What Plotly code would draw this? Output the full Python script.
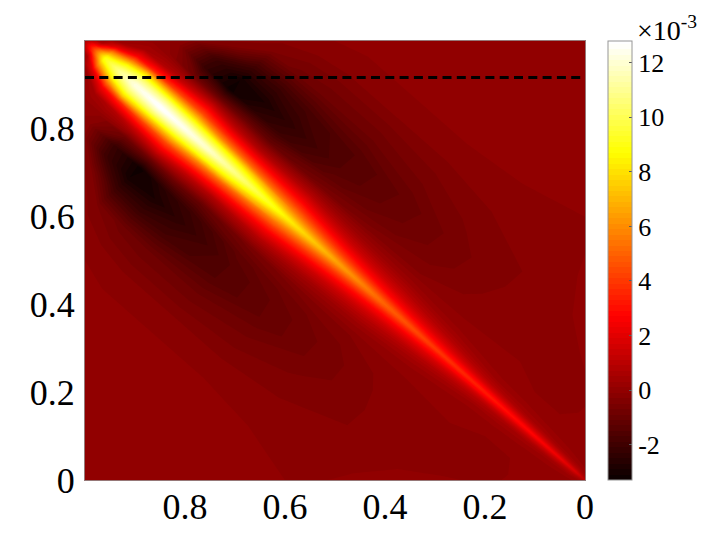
import numpy as np
import plotly.graph_objects as go

# position along the diagonal, (x+y)/2
along = [0, .02, .05, .1, .15, .2, .3, .4, .5, .6, .7, .75, .8, .85, .9, .93, .96, .98, 1]
# distance from the diagonal, |x-y|
offset = [0, .005, .01, .02, .03, .05, .07, .1, .14, .18, .22, .28, .35, .45, .55, .7, 1]
# values (x 1e-3), one row per entry of `along`, one column per entry of `offset`
values = [
 [1.0, .6, .3, .1, 0, 0, 0, 0, 0, 0, 0, 0, 0, 0, 0, 0, 0],
 [1.8, 1.3, .8, .3, .1, 0, 0, 0, 0, 0, 0, 0, 0, 0, 0, 0, 0],
 [2.3, 1.8, 1.2, .5, .2, 0, 0, 0, 0, 0, 0, 0, 0, 0, 0, 0, 0],
 [2.8, 2.3, 1.7, .9, .4, .1, 0, -.1, -.15, -.15, -.1, 0, 0, 0, 0, 0, 0],
 [3.0, 2.6, 2.1, 1.2, .6, .2, 0, -.1, -.15, -.15, -.1, -.1, 0, 0, 0, 0, 0],
 [3.3, 3.0, 2.5, 1.5, .9, .3, .05, -.05, -.1, -.1, -.1, -.1, -.1, 0, 0, 0, 0],
 [4.0, 3.7, 3.2, 2.5, 1.8, .9, .4, 0, -.15, -.2, -.25, -.3, -.3, -.25, -.15, 0, 0],
 [5.0, 4.8, 4.4, 3.5, 2.7, 1.6, .9, .2, -.3, -.5, -.6, -.6, -.45, -.25, -.1, -.05, 0],
 [6.6, 6.3, 5.8, 4.8, 3.9, 2.5, 1.4, .4, -.4, -.8, -1.0, -1.05, -.7, -.3, -.05, 0, 0],
 [8.5, 8.2, 7.7, 6.6, 5.6, 3.9, 2.5, .9, -.6, -1.2, -1.5, -1.5, -.9, -.3, -.05, 0, 0],
 [10.8, 10.6, 10.1, 9.1, 8.0, 5.0, 3.1, .8, -1.1, -2.1, -2.4, -1.9, -.9, -.3, -.05, 0, 0],
 [11.8, 11.6, 11.1, 10.0, 8.9, 5.8, 3.6, 1.2, -.9, -2.5, -2.9, -2.1, -.8, -.2, 0, 0, 0],
 [12.4, 12.2, 11.8, 10.8, 9.6, 7.0, 4.4, 2.0, -1.0, -3.2, -3.1, -2.0, -.5, 0, 0, 0, 0],
 [12.8, 12.6, 12.2, 11.3, 10.2, 7.2, 4.2, 1.4, -.9, -2.2, -2.0, -.4, 0, 0, 0, 0, 0],
 [12.2, 12.1, 11.8, 11.0, 10.1, 7.5, 3.5, .8, -.1, -.3, 0, 0, 0, 0, 0, 0, 0],
 [11.0, 10.8, 10.5, 9.6, 8.6, 5.5, 2.6, .5, 0, 0, 0, 0, 0, 0, 0, 0, 0],
 [9.0, 8.8, 8.4, 7.0, 5.5, 2.0, .3, 0, 0, 0, 0, 0, 0, 0, 0, 0, 0],
 [4.5, 4.2, 3.8, 2.0, .6, 0, 0, 0, 0, 0, 0, 0, 0, 0, 0, 0, 0],
 [.5, .3, .1, 0, 0, 0, 0, 0, 0, 0, 0, 0, 0, 0, 0, 0, 0],
]
x_ticks = [.8, .6, .4, .2, 0]
x_labels = ["0.8", "0.6", "0.4", "0.2", "0"]
y_ticks = [0, .2, .4, .6, .8]
y_labels = ["0", "0.2", "0.4", "0.6", "0.8"]
bar_ticks = [-2, 0, 2, 4, 6, 8, 10, 12]
bar_labels = ["-2", "0", "2", "4", "6", "8", "10", "12"]
dashed_y = [.917, .917]
dashed_x = [1, 0]

half = np.array(values).T                          # rows: offset, cols: along
full = np.vstack([half[:0:-1], half])              # the map is mirrored about the diagonal
b = np.array([-o for o in offset[:0:-1]] + offset)
a = np.array(along)
A, B = np.meshgrid(a, b)
X = A + B / 2
Y = A - B / 2

hot = [[0, "rgb(10,0,0)"], [.375, "rgb(255,0,0)"], [.75, "rgb(255,255,0)"], [1, "rgb(255,255,255)"]]
plain = dict(showgrid=False, showticklabels="none", showline=False, startline=False,
             endline=False, smoothing=0, minorgridcount=0)

fig = go.Figure()
fig.add_trace(go.Carpet(carpet="c", a=a, b=b, x=X, y=Y, aaxis=plain, baxis=plain))
fig.add_trace(go.Contourcarpet(
    carpet="c", a=a, b=b, z=full, autocontour=False,
    contours=dict(start=-3.3, end=12.8, size=.2, coloring="fill", showlines=False),
    line=dict(width=0, smoothing=0), colorscale=hot, zmin=-3.3, zmax=12.8, zauto=False,
    colorbar=dict(
        x=1.046, xanchor="left", xpad=0, ypad=0, y=0, yanchor="bottom", len=1,
        thickness=24, outlinecolor="rgb(150,150,150)", outlinewidth=1,
        tickvals=bar_ticks, ticktext=bar_labels, ticks="inside", ticklen=3, tickcolor="rgb(90,90,90)",
        tickfont=dict(family="Liberation Serif", size=26, color="black"),
    ),
))
fig.add_trace(go.Scatter(x=dashed_x, y=dashed_y, mode="lines", showlegend=False,
                         line=dict(color="black", width=3, dash="9px,5.3px")))
fig.update_layout(
    width=712, height=532, autosize=False, paper_bgcolor="white", plot_bgcolor="rgb(150,0,0)",
    margin=dict(l=77, r=135, t=33, b=60), showlegend=False,
    font=dict(family="Liberation Serif", color="black"),
    annotations=[dict(text="×10<sup>-3</sup>", xref="paper", yref="paper", x=1.10, y=.985,
                      xanchor="left", yanchor="bottom", showarrow=False,
                      font=dict(family="Liberation Serif", size=28, color="black"))],
)
fig.update_xaxes(range=[1, 0], tickvals=x_ticks, ticktext=x_labels, showgrid=False, zeroline=False,
                 ticks="", showline=True, mirror=True, linecolor="rgb(150,120,120)", linewidth=1,
                 ticklabelstandoff=-5,
                 tickfont=dict(family="Liberation Serif", size=36, color="black"))
fig.update_yaxes(range=[0, 1], tickvals=y_ticks, ticktext=y_labels, showgrid=False, zeroline=False,
                 ticks="", showline=True, mirror=True, linecolor="rgb(150,120,120)", linewidth=1,
                 ticklabelstandoff=2,
                 tickfont=dict(family="Liberation Serif", size=36, color="black"))
fig.write_html("out.html")
